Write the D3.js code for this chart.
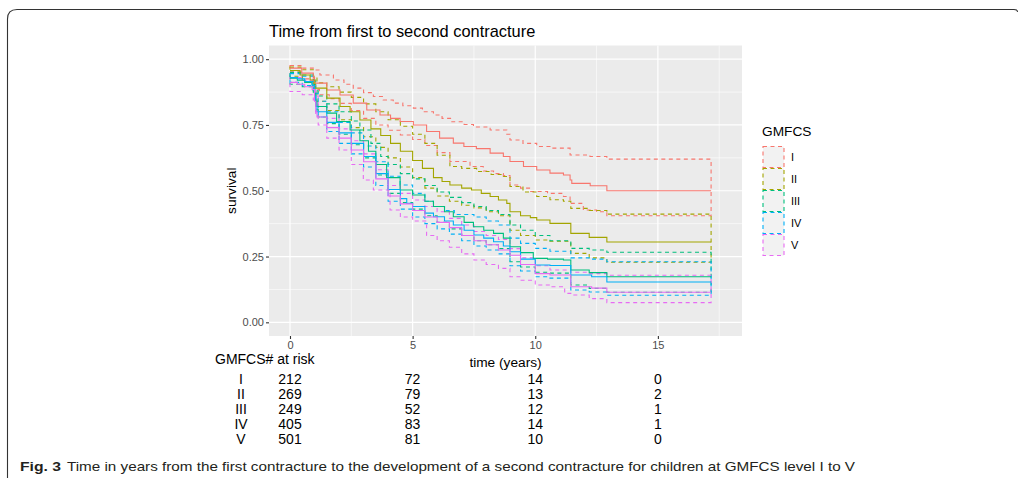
<!DOCTYPE html>
<html><head><meta charset="utf-8">
<script src="https://cdn.jsdelivr.net/npm/d3@7"></script>
<style>body{margin:0;background:#fff}svg{display:block}</style>
</head><body><svg id="c" width="1019" height="478"></svg>
<script>
const groups = ["I","II","III","IV","V"];
const colors = ["#F8766D","#A3A500","#00BF7D","#00B0F6","#E76BF3"];
// [time, survival] knots (step functions)
const estI = [[0,0.966],[0.48,0.947],[0.95,0.93],[1.0,0.909],[1.5,0.883],[2.04,0.864],[2.58,0.833],[3.13,0.807],[3.67,0.788],[4.1,0.775],[4.49,0.763],[5.03,0.75],[5.57,0.725],[6.1,0.70],[6.66,0.681],[7.09,0.668],[7.6,0.66],[8.16,0.643],[8.7,0.63],[8.97,0.611],[9.52,0.592],[10.06,0.579],[10.6,0.567],[11.15,0.56],[11.42,0.541],[11.49,0.528],[12.24,0.519],[12.92,0.5],[17.17,0.5]];
const upI = [[0,0.976],[0.5,0.966],[0.95,0.959],[1.22,0.94],[1.77,0.921],[2.2,0.905],[2.58,0.89],[3,0.873],[3.4,0.858],[3.8,0.845],[4.21,0.833],[4.6,0.823],[5.03,0.814],[5.4,0.80],[5.85,0.788],[6.2,0.775],[6.6,0.762],[7.1,0.752],[7.48,0.742],[8.16,0.731],[8.84,0.715],[8.97,0.693],[9.5,0.68],[10.06,0.668],[10.6,0.662],[11.42,0.636],[12.23,0.63],[12.92,0.62],[17.17,0.62]];
const loI = [[0,0.952],[0.5,0.925],[0.95,0.885],[1.2,0.865],[1.6,0.85],[2,0.832],[2.5,0.805],[3,0.775],[3.5,0.75],[4,0.73],[4.5,0.712],[5,0.695],[5.5,0.672],[6,0.645],[6.52,0.611],[7.34,0.592],[7.88,0.575],[8.3,0.565],[8.7,0.558],[8.97,0.522],[9.4,0.51],[9.79,0.497],[10.5,0.49],[11.15,0.478],[11.42,0.452],[11.96,0.427],[12.5,0.42],[12.92,0.405],[17.17,0.405]];
const estII = [[0,0.957],[0.41,0.94],[0.82,0.921],[1.02,0.89],[1.5,0.852],[2.04,0.82],[2.45,0.80],[2.85,0.769],[3.3,0.735],[3.7,0.71],[4.1,0.68],[4.5,0.65],[5,0.615],[5.4,0.585],[5.85,0.55],[6.2,0.535],[6.52,0.522],[7.0,0.51],[7.4,0.503],[7.8,0.49],[8.16,0.478],[8.5,0.465],[8.84,0.452],[8.97,0.42],[9.4,0.405],[9.8,0.398],[10.06,0.389],[10.6,0.376],[11.45,0.338],[12.2,0.323],[12.92,0.305],[17.17,0.305]];
const upII = [[0,0.97],[0.5,0.96],[0.95,0.935],[1.1,0.91],[1.5,0.895],[2,0.875],[2.5,0.855],[3,0.83],[3.5,0.80],[4,0.77],[4.5,0.745],[5,0.715],[5.5,0.68],[6,0.635],[6.52,0.592],[7,0.585],[7.61,0.573],[8.2,0.562],[8.7,0.554],[8.97,0.516],[9.5,0.495],[10.06,0.478],[10.6,0.466],[11.15,0.46],[11.45,0.433],[12.2,0.425],[12.92,0.411],[17.17,0.411]];
const loII = [[0,0.935],[0.5,0.915],[0.95,0.88],[1.1,0.84],[1.5,0.805],[2,0.77],[2.5,0.74],[3,0.705],[3.5,0.665],[4,0.625],[4.5,0.59],[5,0.55],[5.5,0.51],[6,0.48],[6.5,0.46],[7,0.445],[7.5,0.435],[8,0.42],[8.5,0.405],[8.97,0.35],[9.4,0.33],[10,0.313],[10.6,0.308],[11.45,0.262],[12.2,0.245],[12.92,0.228],[17.17,0.228]];
const estIII = [[0,0.928],[0.3,0.92],[0.6,0.912],[0.9,0.905],[1.0,0.87],[1.05,0.84],[1.1,0.82],[1.5,0.795],[1.9,0.763],[2.45,0.731],[2.85,0.69],[3.2,0.65],[3.5,0.60],[3.94,0.55],[4.49,0.503],[5,0.484],[5.5,0.46],[5.85,0.44],[6.3,0.42],[6.66,0.401],[7.1,0.38],[7.48,0.363],[7.9,0.35],[8.3,0.338],[8.7,0.32],[8.97,0.287],[9.4,0.265],[9.92,0.243],[10.5,0.24],[11.15,0.237],[11.45,0.199],[12.2,0.189],[12.92,0.173],[17.17,0.173]];
const upIII = [[0,0.95],[0.5,0.94],[0.95,0.92],[1.05,0.88],[1.15,0.86],[1.5,0.83],[2,0.80],[2.5,0.765],[2.85,0.731],[3.3,0.68],[3.7,0.63],[4,0.60],[4.5,0.565],[5,0.545],[5.5,0.52],[6,0.495],[6.5,0.475],[7,0.455],[7.5,0.44],[8,0.425],[8.5,0.41],[8.97,0.37],[9.4,0.35],[10,0.33],[10.6,0.31],[11.45,0.281],[12.2,0.275],[12.92,0.266],[17.17,0.266]];
const loIII = [[0,0.905],[0.5,0.895],[0.95,0.875],[1.05,0.81],[1.15,0.78],[1.5,0.755],[2,0.715],[2.5,0.675],[3,0.625],[3.5,0.56],[4,0.49],[4.5,0.455],[5,0.43],[5.5,0.405],[6,0.38],[6.5,0.355],[7,0.33],[7.5,0.31],[8,0.295],[8.5,0.28],[8.97,0.23],[9.4,0.21],[10,0.19],[10.6,0.187],[11.45,0.142],[12.2,0.129],[12.92,0.114],[17.17,0.114]];
const estIV = [[0,0.93],[0.3,0.925],[0.6,0.915],[0.9,0.90],[1.0,0.86],[1.05,0.82],[1.1,0.80],[1.5,0.76],[2,0.72],[2.5,0.68],[3,0.63],[3.5,0.565],[4,0.505],[4.5,0.47],[4.76,0.452],[5,0.44],[5.5,0.415],[5.85,0.401],[6.3,0.385],[6.66,0.37],[7.1,0.35],[7.5,0.332],[7.9,0.32],[8.3,0.306],[8.7,0.29],[8.97,0.268],[9.4,0.24],[10,0.218],[10.6,0.216],[11.45,0.18],[12.3,0.173],[12.92,0.153],[17.17,0.153]];
const upIV = [[0,0.945],[0.5,0.935],[0.95,0.915],[1.05,0.87],[1.15,0.84],[1.5,0.80],[2,0.76],[2.5,0.72],[3,0.67],[3.5,0.61],[4,0.555],[4.49,0.522],[5,0.49],[5.5,0.46],[5.85,0.44],[6.3,0.425],[6.7,0.41],[7.5,0.40],[8,0.385],[8.5,0.37],[8.97,0.32],[9.4,0.30],[10,0.281],[10.6,0.27],[11.45,0.245],[12.2,0.24],[12.92,0.23],[17.17,0.23]];
const loIV = [[0,0.912],[0.5,0.90],[0.95,0.88],[1.05,0.83],[1.15,0.78],[1.5,0.725],[2,0.68],[2.5,0.64],[3,0.59],[3.5,0.52],[4,0.46],[4.5,0.43],[5,0.40],[5.5,0.375],[6,0.355],[6.5,0.335],[7,0.31],[7.5,0.29],[8,0.275],[8.5,0.26],[8.97,0.215],[9.4,0.195],[10,0.173],[10.6,0.168],[11.45,0.123],[12.2,0.115],[12.92,0.103],[17.17,0.103]];
const estV = [[0,0.912],[0.3,0.905],[0.6,0.895],[0.9,0.885],[1.0,0.84],[1.05,0.80],[1.1,0.78],[1.5,0.74],[2,0.70],[2.5,0.655],[3,0.61],[3.5,0.545],[4,0.48],[4.5,0.45],[5,0.425],[5.5,0.40],[6,0.38],[6.5,0.36],[7,0.33],[7.5,0.31],[8,0.295],[8.5,0.275],[8.97,0.255],[9.4,0.22],[10,0.185],[10.6,0.18],[11.45,0.135],[12.3,0.13],[12.92,0.114],[17.17,0.114]];
const upV = [[0,0.93],[0.5,0.92],[0.95,0.90],[1.05,0.86],[1.15,0.82],[1.5,0.775],[2,0.735],[2.5,0.69],[3,0.64],[3.5,0.58],[4,0.52],[4.5,0.49],[5,0.465],[5.5,0.44],[6,0.42],[6.5,0.395],[7,0.37],[7.5,0.345],[8,0.33],[8.5,0.315],[8.97,0.28],[9.4,0.245],[10,0.215],[10.6,0.199],[11.45,0.19],[12.2,0.185],[12.92,0.179],[17.17,0.179]];
const loV = [[0,0.877],[0.5,0.865],[0.95,0.845],[1.05,0.79],[1.15,0.75],[1.5,0.70],[2,0.655],[2.5,0.60],[2.99,0.541],[3.4,0.503],[4.08,0.427],[4.5,0.40],[5,0.385],[5.57,0.33],[6,0.31],[6.5,0.285],[7,0.26],[7.5,0.237],[8,0.22],[8.5,0.205],[8.97,0.173],[9.4,0.16],[10,0.142],[10.6,0.135],[11.2,0.11],[11.45,0.104],[12.2,0.09],[12.92,0.075],[17.17,0.075]];
const estimates = [estI,estII,estIII,estIV,estV];
const uppers = [upI,upII,upIII,upIV,upV];
const lowers = [loI,loII,loIII,loIV,loV];
const xTicks = [0,5,10,15];
const yTicks = [0,0.25,0.5,0.75,1];
const riskTimes = [0,5,10,15];
const atRisk = [[212,72,14,0],[269,79,13,2],[249,52,12,1],[405,83,14,1],[501,81,10,0]];
const titleText = "Time from first to second contracture";
const captionBold = "Fig. 3";
const captionText = "Time in years from the first contracture to the development of a second contracture for children at GMFCS level I to V";

const svg = d3.select("#c");
const P = {l:269, r:742, t:45.5, b:336};
const x = d3.scaleLinear().domain([-0.856,18.43]).range([P.l,P.r]);
const y = d3.scaleLinear().domain([-0.052,1.052]).range([P.b,P.t]);
const FONT = "Liberation Sans, Arial, Helvetica, sans-serif";

// frame
svg.append("path").attr("d","M7.5,478 V19 Q7.5,9.5 17,9.5 H1014 Q1017.5,9.5 1017.5,12")
  .attr("fill","none").attr("stroke","#333").attr("stroke-width",1.1);

// panel
svg.append("rect").attr("x",P.l).attr("y",P.t).attr("width",P.r-P.l).attr("height",P.b-P.t).attr("fill","#EBEBEB");
const xMinor = [2.5,7.5,12.5,17.5], yMinor=[0.125,0.375,0.625,0.875];
const g = svg.append("g");
xMinor.forEach(v=>g.append("line").attr("x1",x(v)).attr("x2",x(v)).attr("y1",P.t).attr("y2",P.b).attr("stroke","#fff").attr("stroke-width",0.6));
yMinor.forEach(v=>g.append("line").attr("y1",y(v)).attr("y2",y(v)).attr("x1",P.l).attr("x2",P.r).attr("stroke","#fff").attr("stroke-width",0.6));
xTicks.forEach(v=>g.append("line").attr("x1",x(v)).attr("x2",x(v)).attr("y1",P.t).attr("y2",P.b).attr("stroke","#fff").attr("stroke-width",1.2));
yTicks.forEach(v=>g.append("line").attr("y1",y(v)).attr("y2",y(v)).attr("x1",P.l).attr("x2",P.r).attr("stroke","#fff").attr("stroke-width",1.2));

// axes
const xAxis = d3.axisBottom(x).tickValues(xTicks).tickSize(3).tickPadding(2).tickFormat(d3.format("d"));
const ax = svg.append("g").attr("transform",`translate(0,${P.b})`).call(xAxis);
const yAxis = d3.axisLeft(y).tickValues(yTicks).tickSize(3).tickPadding(2).tickFormat(d3.format(".2f"));
const ay = svg.append("g").attr("transform",`translate(${P.l},0)`).call(yAxis);
[ax,ay].forEach(a=>{a.select(".domain").remove();a.selectAll(".tick line").attr("stroke","#333").attr("stroke-width",1.1);
  a.selectAll("text").attr("fill","#4D4D4D").attr("font-size",11).attr("font-family",FONT);});

// step helpers
function stepPts(pts){const p=[];for(let i=0;i<pts.length;i++){p.push(pts[i]); if(i<pts.length-1)p.push([pts[i+1][0],pts[i][1]]);}return p;}
const line = d3.line().x(d=>x(d[0])).y(d=>y(d[1]));

const curves = svg.append("g");
groups.forEach((gname,i)=>{
  const up = stepPts(uppers[i]);
  const lo = stepPts(lowers[i]).reverse();
  curves.append("path").attr("d", line(up.concat(lo))+"Z").attr("fill","none")
    .attr("stroke",colors[i]).attr("stroke-width",1.1).attr("stroke-dasharray","4,3.5");
});
groups.forEach((gname,i)=>{
  curves.append("path").attr("d", line(stepPts(estimates[i]))).attr("fill","none")
    .attr("stroke",colors[i]).attr("stroke-width",1.1);
});

// titles
svg.append("text").attr("x",P.l).attr("y",37).text(titleText).attr("font-size",16.4).attr("font-family",FONT).attr("fill","#000");
svg.append("text").attr("transform",`translate(236,${(P.t+P.b)/2}) rotate(-90)`).attr("text-anchor","middle")
  .text("survival").attr("font-size",13.7).attr("font-family",FONT).attr("fill","#000");
svg.append("text").attr("x",(P.l+P.r)/2).attr("y",367).attr("text-anchor","middle")
  .text("time (years)").attr("font-size",13.7).attr("font-family",FONT).attr("fill","#000");

// legend
const lg = svg.append("g");
lg.append("text").attr("x",762).attr("y",136).text("GMFCS").attr("font-size",13.7).attr("font-family",FONT);
groups.forEach((gname,i)=>{
  const yy = 146.5 + i*22;
  lg.append("rect").attr("x",763).attr("y",yy).attr("width",21).attr("height",21).attr("fill","#F2F2F2")
    .attr("stroke",colors[i]).attr("stroke-width",1.1).attr("stroke-dasharray","4,3.5");
  lg.append("text").attr("x",791).attr("y",yy+10.5).attr("dy","0.35em").text(gname).attr("font-size",11).attr("font-family",FONT);
});

// risk table
const rt = svg.append("g").attr("font-family",FONT).attr("font-size",14).attr("fill","#000");
rt.append("text").attr("x",215).attr("y",364).text("GMFCS# at risk");
const rowY = d3.scalePoint().domain(groups).range([378.5,438.5]);
groups.forEach((gname,i)=>{
  rt.append("text").attr("x",241).attr("y",rowY(gname)).attr("dy","0.36em").attr("text-anchor","middle").text(gname);
  riskTimes.forEach((t,j)=>{
    rt.append("text").attr("x",x(t)).attr("y",rowY(gname)).attr("dy","0.36em").attr("text-anchor","middle").text(atRisk[i][j]);
  });
});

// caption
const cap = svg.append("g").attr("font-family","Liberation Sans Narrow, Liberation Sans, Arial, sans-serif").attr("font-size",13.5).attr("fill","#231F20");
cap.append("text").attr("x",20).attr("y",471).attr("font-weight","bold").text(captionBold).attr("textLength",41).attr("lengthAdjust","spacingAndGlyphs");
cap.append("text").attr("x",67).attr("y",471).text(captionText).attr("textLength",788).attr("lengthAdjust","spacingAndGlyphs");
</script></body></html>
